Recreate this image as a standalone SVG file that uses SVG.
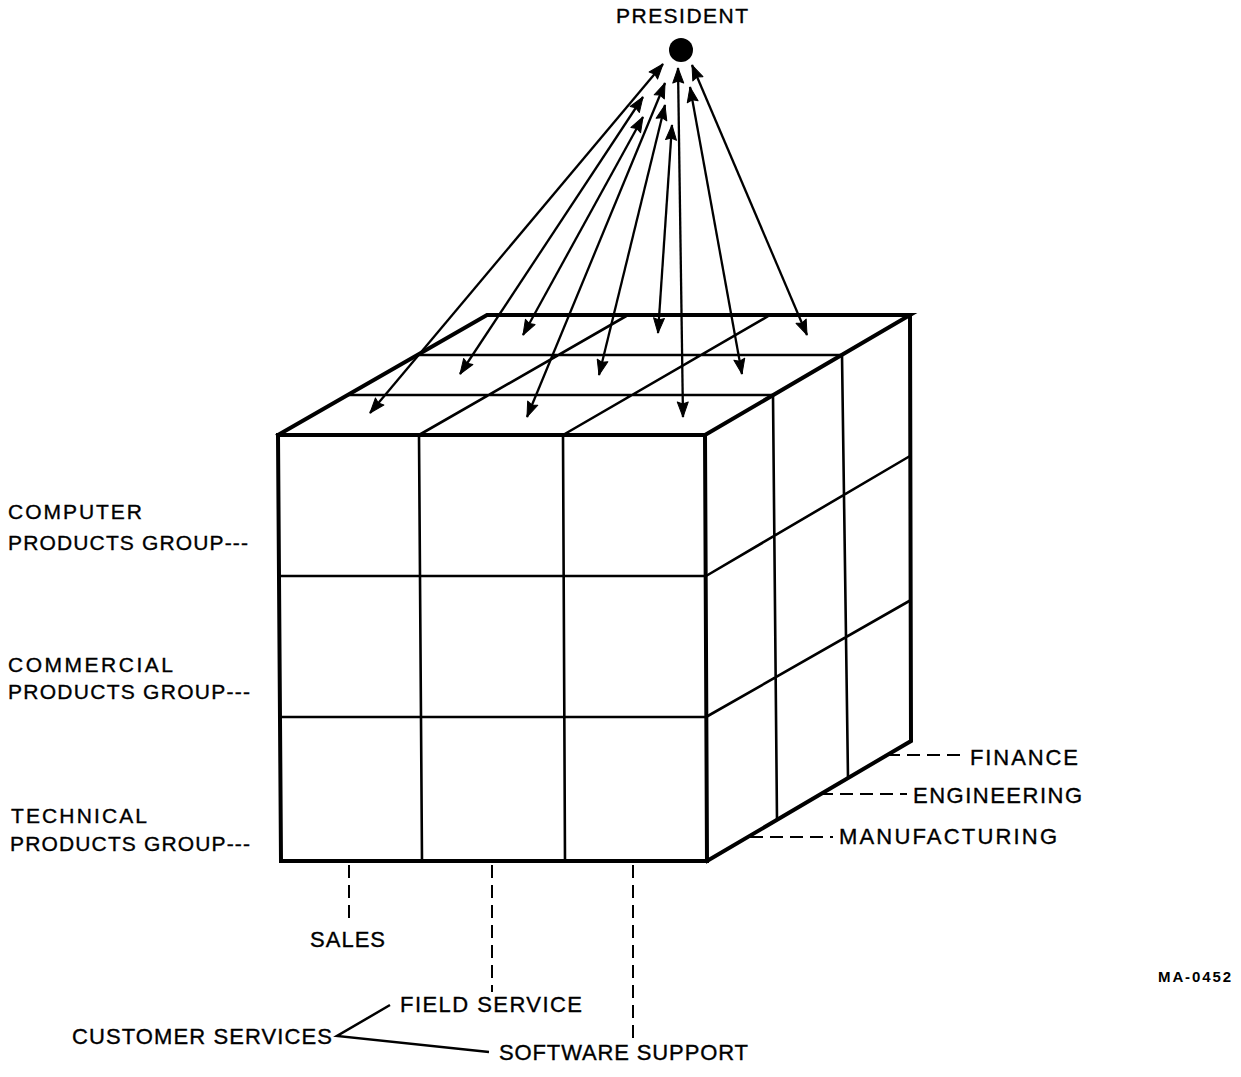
<svg xmlns="http://www.w3.org/2000/svg" width="1241" height="1077" viewBox="0 0 1241 1077">
  <style>
    .edge{stroke:#000;stroke-width:4;fill:none;stroke-linejoin:miter;stroke-linecap:square}
    .grid{stroke:#000;stroke-width:2.6;fill:none}
    .link{stroke:#000;stroke-width:2.3;fill:none;marker-start:url(#head);marker-end:url(#head)}
    .lead{stroke:#000;stroke-width:2;stroke-dasharray:13 7;fill:none}
    .brace{stroke:#000;stroke-width:2.5;fill:none}
    text{font-family:"Liberation Sans",Arial,Helvetica,sans-serif;font-size:22px;fill:#000;stroke:#000;stroke-width:0.35}
    .side{font-size:21px}
    .tag{font-size:15px;font-weight:bold;stroke-width:0}
  </style>
  <defs>
    <marker id="head" markerUnits="userSpaceOnUse" markerWidth="18" markerHeight="14" refX="15" refY="5.5" orient="auto-start-reverse" overflow="visible">
      <path d="M0,0 L15,5.5 L0,11 L2,5.5 Z" fill="#000" stroke="#000" stroke-width="1" stroke-linejoin="round"/>
    </marker>
  </defs>
  <rect width="1241" height="1077" fill="#fff"/>

  <!-- president node -->
  <g id="president">
    <text x="616" y="23" class="side" textLength="132" lengthAdjust="spacing">PRESIDENT</text>
    <circle cx="681" cy="50" r="12" fill="#000"/>
  </g>

  <!-- the 3x3x3 organisation cube -->
  <g id="cube">
    <!-- front face -->
    <path class="grid" d="M419,435 L422,861 M563,435 L565,861 M279,576 L706,576 M280,717 L706,717"/>
    <!-- top face -->
    <path class="grid" d="M347.7,395 L773,395 M417.3,355 L842,355 M419,435 L628,315 M563,435 L770,315"/>
    <!-- right face -->
    <path class="grid" d="M773,395 L777,820 M842,355 L848,778 M706,576 L910,456 M706,717 L911,600"/>
    <!-- outline -->
    <path class="edge" d="M278,435 L705,435 L707,861 L281,861 Z"/>
    <path class="edge" d="M278,435 L487,315 L910,315 L705,435"/>
    <path class="edge" d="M910,315 L911,741 L707,861"/>
  </g>

  <!-- connectors: president links and label leaders -->
  <g id="connectors">
    <line class="link" x1="663" y1="64" x2="370" y2="413"/>
    <line class="link" x1="643" y1="97" x2="460" y2="374"/>
    <line class="link" x1="643" y1="117" x2="523" y2="335"/>
    <line class="link" x1="665" y1="83" x2="527" y2="417"/>
    <line class="link" x1="665" y1="105" x2="599" y2="375"/>
    <line class="link" x1="672" y1="125" x2="658" y2="333"/>
    <line class="link" x1="678" y1="68" x2="683" y2="417"/>
    <line class="link" x1="690" y1="87" x2="742" y2="374"/>
    <line class="link" x1="692" y1="65" x2="807" y2="335"/>

    <line class="lead" x1="887" y1="755" x2="965" y2="755"/>
    <line class="lead" x1="820" y1="794" x2="907" y2="794"/>
    <line class="lead" x1="750" y1="837" x2="833" y2="837"/>

    <line class="lead" x1="349" y1="865" x2="349" y2="922"/>
    <line class="lead" x1="492" y1="865" x2="492" y2="992"/>
    <line class="lead" x1="633" y1="865" x2="633" y2="1040"/>

    <path class="brace" d="M390,1005 L337,1036 L489,1052"/>
  </g>

  <!-- product group labels -->
  <g id="computer-products">
    <text x="8" y="519" class="side" textLength="134" lengthAdjust="spacing">COMPUTER</text>
    <text x="8" y="550" class="side" textLength="240" lengthAdjust="spacing">PRODUCTS GROUP---</text>
  </g>
  <g id="commercial-products">
    <text x="8" y="672" class="side" textLength="165" lengthAdjust="spacing">COMMERCIAL</text>
    <text x="8" y="699" class="side" textLength="242" lengthAdjust="spacing">PRODUCTS GROUP---</text>
  </g>
  <g id="technical-products">
    <text x="11" y="823" class="side" textLength="136" lengthAdjust="spacing">TECHNICAL</text>
    <text x="10" y="851" class="side" textLength="240" lengthAdjust="spacing">PRODUCTS GROUP---</text>
  </g>

  <!-- function labels -->
  <g id="finance"><text x="970" y="765" textLength="108" lengthAdjust="spacing">FINANCE</text></g>
  <g id="engineering"><text x="913" y="803" textLength="169" lengthAdjust="spacing">ENGINEERING</text></g>
  <g id="manufacturing"><text x="839" y="844" textLength="218" lengthAdjust="spacing">MANUFACTURING</text></g>

  <!-- field function labels -->
  <g id="sales"><text x="310" y="947" textLength="75" lengthAdjust="spacing">SALES</text></g>
  <g id="field-service"><text x="400" y="1012" textLength="182" lengthAdjust="spacing">FIELD SERVICE</text></g>
  <g id="software-support"><text x="499" y="1060" textLength="249" lengthAdjust="spacing">SOFTWARE SUPPORT</text></g>
  <g id="customer-services"><text x="72" y="1044" textLength="260" lengthAdjust="spacing">CUSTOMER SERVICES</text></g>

  <g id="figure-tag"><text x="1158" y="982" class="tag" textLength="73" lengthAdjust="spacing">MA-0452</text></g>
</svg>
